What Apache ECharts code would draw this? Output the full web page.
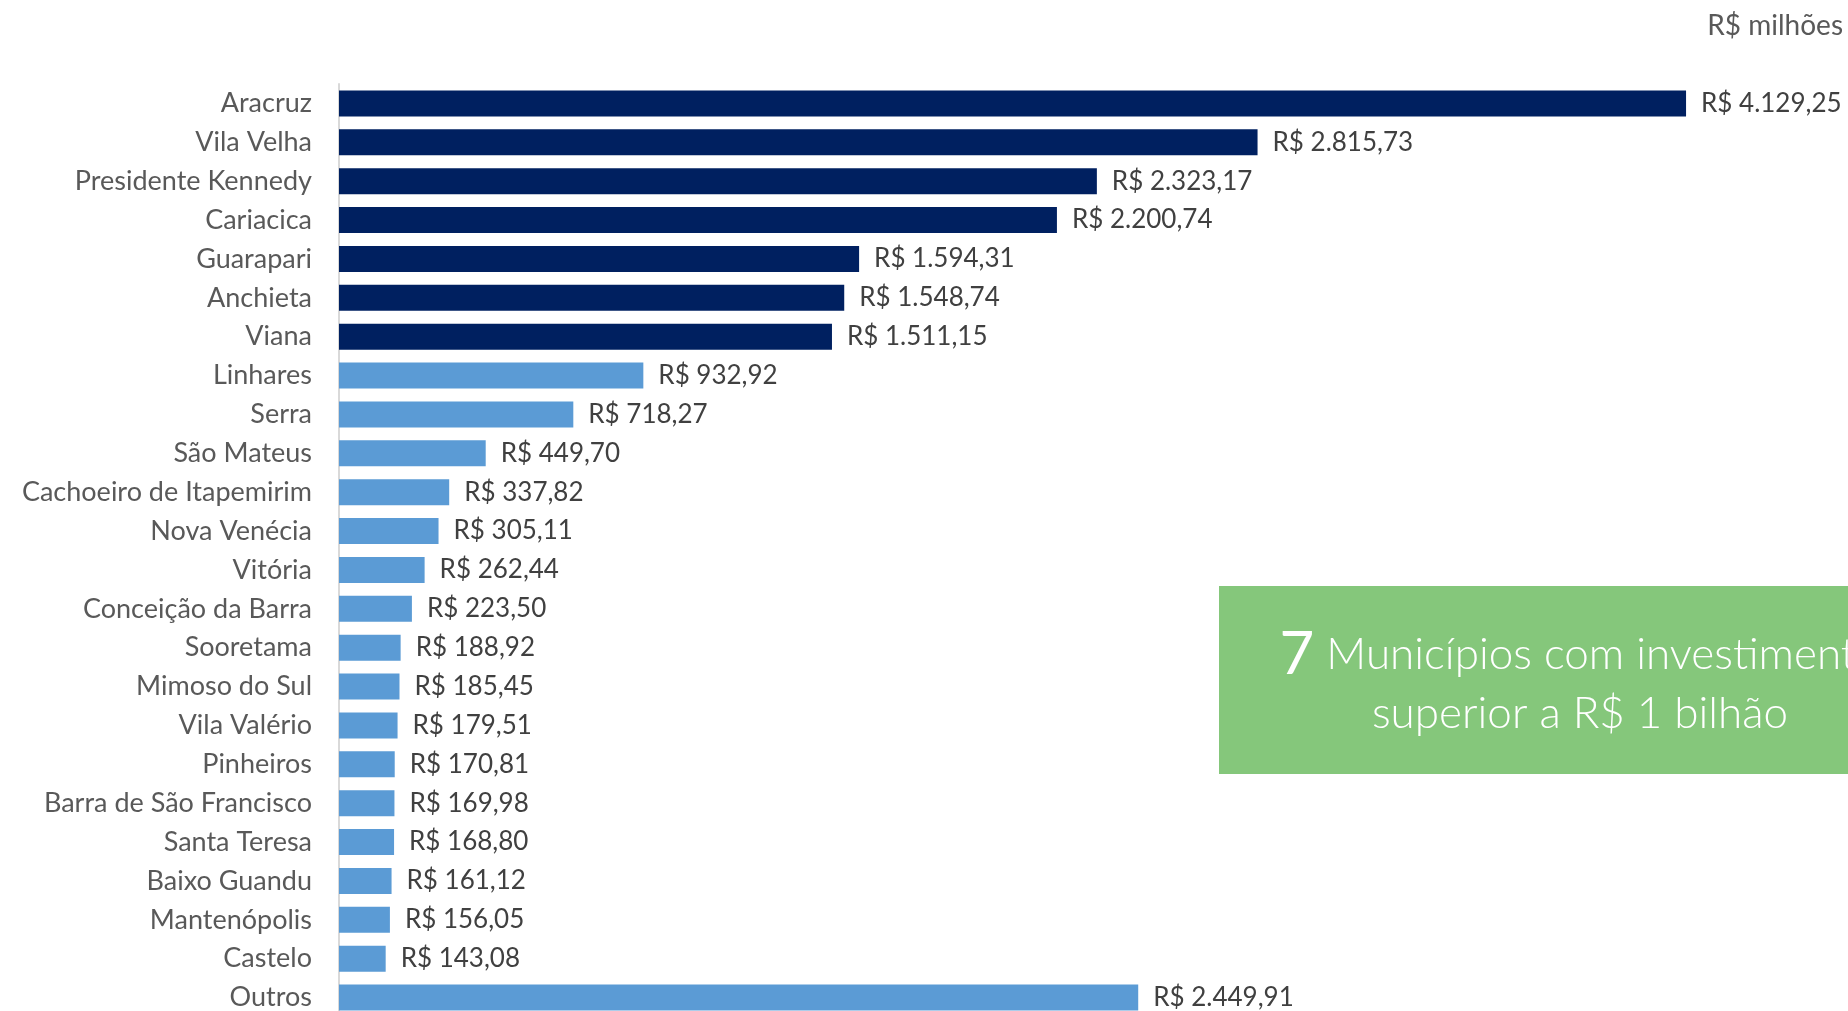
<!DOCTYPE html>
<html>
<head>
<meta charset="utf-8">
<script src="https://cdn.jsdelivr.net/npm/echarts@6/dist/echarts.min.js"></script>
<style>
  html, body { margin: 0; padding: 0; background: #fff; }
  #chart { width: 1848px; height: 1011px; }
</style>
</head>
<body>
<div id="chart"></div>
<script>
// municipios (ordem do grafico, de cima para baixo)
const municipios = ['Aracruz', 'Vila Velha', 'Presidente Kennedy', 'Cariacica', 'Guarapari', 'Anchieta', 'Viana',
  'Linhares', 'Serra', 'São Mateus', 'Cachoeiro de Itapemirim', 'Nova Venécia', 'Vitória', 'Conceição da Barra',
  'Sooretama', 'Mimoso do Sul', 'Vila Valério', 'Pinheiros', 'Barra de São Francisco', 'Santa Teresa',
  'Baixo Guandu', 'Mantenópolis', 'Castelo', 'Outros'];
// investimento em R$ milhoes
const investimento = [4129.25, 2815.73, 2323.17, 2200.74, 1594.31, 1548.74, 1511.15,
  932.92, 718.27, 449.70, 337.82, 305.11, 262.44, 223.50,
  188.92, 185.45, 179.51, 170.81, 169.98, 168.80,
  161.12, 156.05, 143.08, 2449.91];
const unidade = 'R$ milhões';
const destaqueNum = '7';
const destaqueTexto = ['Municípios com investimento', 'superior a R$ 1 bilhão'];
const qtdAcimaBilhao = 7;

function fmtBRL(v) {
  let parts = v.toFixed(2).split('.');
  let inteiro = parts[0].replace(/\B(?=(\d{3})+(?!\d))/g, '.');
  return 'R$ ' + inteiro + ',' + parts[1];
}

let chart = echarts.init(document.getElementById('chart'));
let option = {
  animation: false,
  backgroundColor: '#fff',
  textStyle: { fontFamily: 'Lato' },
  grid: {
    left: 339,
    right: 41,
    top: 84,
    height: 933,
    outerBoundsMode: 'none'
  },
  xAxis: {
    type: 'value',
    min: 0,
    max: 4500,
    show: false
  },
  yAxis: {
    type: 'category',
    inverse: true,
    data: municipios,
    axisLine: { show: true, lineStyle: { color: '#D9D9D9', width: 2 } },
    axisTick: { show: false },
    axisLabel: {
      color: '#595959',
      fontSize: 27,
      fontFamily: 'Lato',
      margin: 27
    }
  },
  series: [{
    type: 'bar',
    data: investimento,
    barWidth: 26,
    itemStyle: {
      color: p => p.dataIndex < qtdAcimaBilhao ? '#002060' : '#5B9BD5'
    },
    label: {
      show: true,
      position: 'right',
      distance: 15,
      color: '#404040',
      fontSize: 26,
      fontFamily: 'Lato',
      formatter: p => fmtBRL(p.value)
    }
  }],
  graphic: [
    {
      type: 'text',
      right: 5,
      top: 12,
      style: {
        text: unidade,
        fill: '#595959',
        font: '28px Lato'
      }
    },
    {
      type: 'rect',
      shape: { x: 1219, y: 586, width: 700, height: 188 },
      style: { fill: '#85C77B' }
    },
    {
      type: 'text',
      x: 1580,
      y: 684,
      style: {
        text: '{big|' + destaqueNum + '} ' + destaqueTexto[0] + '\n' + destaqueTexto[1],
        fill: '#fff',
        align: 'center',
        verticalAlign: 'middle',
        font: '300 44px Lato',
        lineHeight: 59,
        rich: {
          big: { fontSize: 60, fontFamily: 'Lato', fill: '#fff', fontWeight: 400 }
        }
      }
    }
  ]
};
chart.setOption(option);
</script>
</body>
</html>
